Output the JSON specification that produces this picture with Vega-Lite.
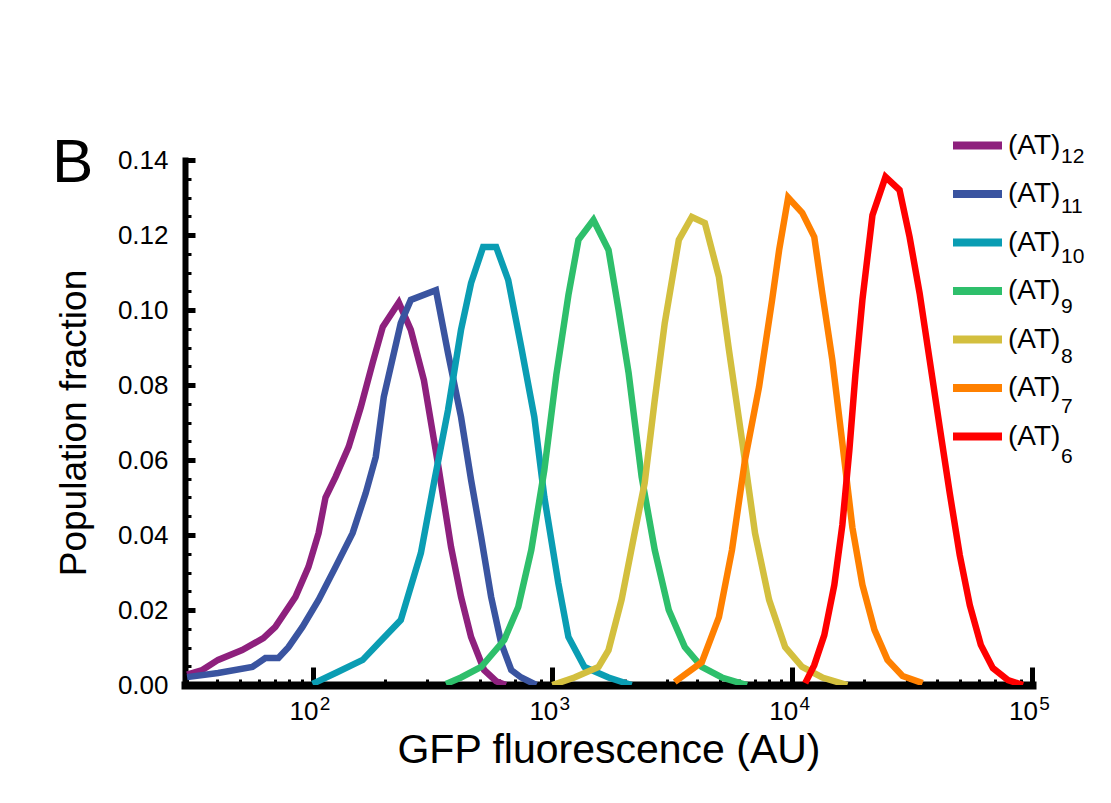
{
  "$schema": "https://vega.github.io/schema/vega-lite/v6.json",
  "width": 847,
  "height": 525,
  "autosize": {"type": "none"},
  "padding": {"left": 185, "top": 160, "right": 79, "bottom": 118},
  "background": "white",
  "config": {
    "view": {"stroke": null},
    "font": "Liberation Sans",
    "axis": {"grid": false, "labelFlush": false, "domainColor": "black", "domainCap": "square", "tickColor": "black", "labelColor": "black", "titleColor": "black", "labelFont": "Liberation Sans", "titleFont": "Liberation Sans", "titleFontWeight": "normal"}
  },
  "title": {"text": "B", "anchor": "start", "frame": "group", "orient": "top", "fontSize": 62, "fontWeight": "normal", "font": "Liberation Sans", "color": "black", "dx": -133, "offset": -127, "baseline": "alphabetic"},
  "datasets": {
    "legendsub": [{"n": "12"}, {"n": "11"}, {"n": "10"}, {"n": "9"}, {"n": "8"}, {"n": "7"}, {"n": "6"}]
  },
  "data": {"values": [
    {"series": "(AT)12", "gfp": 30.0, "fraction": 0.0028},
    {"series": "(AT)12", "gfp": 34.7, "fraction": 0.004},
    {"series": "(AT)12", "gfp": 40.4, "fraction": 0.0067},
    {"series": "(AT)12", "gfp": 50.9, "fraction": 0.0093},
    {"series": "(AT)12", "gfp": 62.4, "fraction": 0.0125},
    {"series": "(AT)12", "gfp": 70.0, "fraction": 0.0155},
    {"series": "(AT)12", "gfp": 84.9, "fraction": 0.0235},
    {"series": "(AT)12", "gfp": 96.2, "fraction": 0.0315},
    {"series": "(AT)12", "gfp": 106, "fraction": 0.0405},
    {"series": "(AT)12", "gfp": 113.3, "fraction": 0.05},
    {"series": "(AT)12", "gfp": 124.8, "fraction": 0.0555},
    {"series": "(AT)12", "gfp": 141.5, "fraction": 0.0635},
    {"series": "(AT)12", "gfp": 158.8, "fraction": 0.074},
    {"series": "(AT)12", "gfp": 178.3, "fraction": 0.086},
    {"series": "(AT)12", "gfp": 196.3, "fraction": 0.0955},
    {"series": "(AT)12", "gfp": 229.0, "fraction": 0.102},
    {"series": "(AT)12", "gfp": 257.0, "fraction": 0.0947},
    {"series": "(AT)12", "gfp": 291.4, "fraction": 0.0813},
    {"series": "(AT)12", "gfp": 333.4, "fraction": 0.059},
    {"series": "(AT)12", "gfp": 378.1, "fraction": 0.0368},
    {"series": "(AT)12", "gfp": 416.1, "fraction": 0.0235},
    {"series": "(AT)12", "gfp": 458.3, "fraction": 0.0128},
    {"series": "(AT)12", "gfp": 519.4, "fraction": 0.004},
    {"series": "(AT)12", "gfp": 583.1, "fraction": 0.001},
    {"series": "(AT)12", "gfp": 640, "fraction": 0.0},
    {"series": "(AT)11", "gfp": 30.0, "fraction": 0.0021},
    {"series": "(AT)11", "gfp": 40.4, "fraction": 0.0032},
    {"series": "(AT)11", "gfp": 56.1, "fraction": 0.0048},
    {"series": "(AT)11", "gfp": 63.6, "fraction": 0.0072},
    {"series": "(AT)11", "gfp": 72.1, "fraction": 0.0072},
    {"series": "(AT)11", "gfp": 79.4, "fraction": 0.0101},
    {"series": "(AT)11", "gfp": 90.8, "fraction": 0.0155},
    {"series": "(AT)11", "gfp": 106, "fraction": 0.0227},
    {"series": "(AT)11", "gfp": 124.8, "fraction": 0.0315},
    {"series": "(AT)11", "gfp": 147.0, "fraction": 0.0405},
    {"series": "(AT)11", "gfp": 166.7, "fraction": 0.0512},
    {"series": "(AT)11", "gfp": 183.5, "fraction": 0.0608},
    {"series": "(AT)11", "gfp": 198.2, "fraction": 0.0768},
    {"series": "(AT)11", "gfp": 233.4, "fraction": 0.0965},
    {"series": "(AT)11", "gfp": 257.0, "fraction": 0.1027},
    {"series": "(AT)11", "gfp": 327.1, "fraction": 0.1053},
    {"series": "(AT)11", "gfp": 367.3, "fraction": 0.0885},
    {"series": "(AT)11", "gfp": 416.1, "fraction": 0.0715},
    {"series": "(AT)11", "gfp": 458.3, "fraction": 0.0547},
    {"series": "(AT)11", "gfp": 504.7, "fraction": 0.0395},
    {"series": "(AT)11", "gfp": 555.6, "fraction": 0.0235},
    {"series": "(AT)11", "gfp": 611.9, "fraction": 0.0112},
    {"series": "(AT)11", "gfp": 673.9, "fraction": 0.004},
    {"series": "(AT)11", "gfp": 742.0, "fraction": 0.002},
    {"series": "(AT)11", "gfp": 857.3, "fraction": 0.0},
    {"series": "(AT)10", "gfp": 100, "fraction": 0.0003},
    {"series": "(AT)10", "gfp": 124.8, "fraction": 0.0032},
    {"series": "(AT)10", "gfp": 161.9, "fraction": 0.0067},
    {"series": "(AT)10", "gfp": 188.9, "fraction": 0.0112},
    {"series": "(AT)10", "gfp": 233.4, "fraction": 0.0173},
    {"series": "(AT)10", "gfp": 283.1, "fraction": 0.0352},
    {"series": "(AT)10", "gfp": 320.9, "fraction": 0.0539},
    {"series": "(AT)10", "gfp": 367.3, "fraction": 0.0733},
    {"series": "(AT)10", "gfp": 416.1, "fraction": 0.0947},
    {"series": "(AT)10", "gfp": 458.3, "fraction": 0.1072},
    {"series": "(AT)10", "gfp": 514.5, "fraction": 0.1168},
    {"series": "(AT)10", "gfp": 583.1, "fraction": 0.1168},
    {"series": "(AT)10", "gfp": 654.6, "fraction": 0.108},
    {"series": "(AT)10", "gfp": 742.0, "fraction": 0.0901},
    {"series": "(AT)10", "gfp": 840.9, "fraction": 0.0715},
    {"series": "(AT)10", "gfp": 926.1, "fraction": 0.0501},
    {"series": "(AT)10", "gfp": 1059, "fraction": 0.0272},
    {"series": "(AT)10", "gfp": 1167, "fraction": 0.0128},
    {"series": "(AT)10", "gfp": 1361, "fraction": 0.0048},
    {"series": "(AT)10", "gfp": 1715, "fraction": 0.002},
    {"series": "(AT)10", "gfp": 2141, "fraction": 0.0},
    {"series": "(AT)9", "gfp": 360.2, "fraction": 0.0003},
    {"series": "(AT)9", "gfp": 416.1, "fraction": 0.002},
    {"series": "(AT)9", "gfp": 504.7, "fraction": 0.0048},
    {"series": "(AT)9", "gfp": 629.9, "fraction": 0.012},
    {"series": "(AT)9", "gfp": 720.8, "fraction": 0.0208},
    {"series": "(AT)9", "gfp": 817.0, "fraction": 0.036},
    {"series": "(AT)9", "gfp": 926.1, "fraction": 0.0573},
    {"series": "(AT)9", "gfp": 1039, "fraction": 0.0827},
    {"series": "(AT)9", "gfp": 1167, "fraction": 0.104},
    {"series": "(AT)9", "gfp": 1285, "fraction": 0.1187},
    {"series": "(AT)9", "gfp": 1484, "fraction": 0.124},
    {"series": "(AT)9", "gfp": 1715, "fraction": 0.116},
    {"series": "(AT)9", "gfp": 1889, "fraction": 0.1},
    {"series": "(AT)9", "gfp": 2080, "fraction": 0.0832},
    {"series": "(AT)9", "gfp": 2357, "fraction": 0.0555},
    {"series": "(AT)9", "gfp": 2673, "fraction": 0.036},
    {"series": "(AT)9", "gfp": 3058, "fraction": 0.02},
    {"series": "(AT)9", "gfp": 3567, "fraction": 0.0101},
    {"series": "(AT)9", "gfp": 4202, "fraction": 0.0048},
    {"series": "(AT)9", "gfp": 5094, "fraction": 0.002},
    {"series": "(AT)9", "gfp": 6482, "fraction": 0.0},
    {"series": "(AT)8", "gfp": 1000, "fraction": 0.0},
    {"series": "(AT)8", "gfp": 1236, "fraction": 0.002},
    {"series": "(AT)8", "gfp": 1558, "fraction": 0.0048},
    {"series": "(AT)8", "gfp": 1715, "fraction": 0.0093},
    {"series": "(AT)8", "gfp": 1944, "fraction": 0.0227},
    {"series": "(AT)8", "gfp": 2203, "fraction": 0.0405},
    {"series": "(AT)8", "gfp": 2427, "fraction": 0.0539},
    {"series": "(AT)8", "gfp": 2673, "fraction": 0.076},
    {"series": "(AT)8", "gfp": 2942, "fraction": 0.0965},
    {"series": "(AT)8", "gfp": 3368, "fraction": 0.1187},
    {"series": "(AT)8", "gfp": 3816, "fraction": 0.1248},
    {"series": "(AT)8", "gfp": 4325, "fraction": 0.1232},
    {"series": "(AT)8", "gfp": 4950, "fraction": 0.1088},
    {"series": "(AT)8", "gfp": 5451, "fraction": 0.0893},
    {"series": "(AT)8", "gfp": 6178, "fraction": 0.0653},
    {"series": "(AT)8", "gfp": 7001, "fraction": 0.0405},
    {"series": "(AT)8", "gfp": 8014, "fraction": 0.0227},
    {"series": "(AT)8", "gfp": 9348, "fraction": 0.0101},
    {"series": "(AT)8", "gfp": 11014, "fraction": 0.0048},
    {"series": "(AT)8", "gfp": 13355, "fraction": 0.002},
    {"series": "(AT)8", "gfp": 16990, "fraction": 0.0},
    {"series": "(AT)7", "gfp": 3239, "fraction": 0.0008},
    {"series": "(AT)7", "gfp": 4202, "fraction": 0.0061},
    {"series": "(AT)7", "gfp": 4950, "fraction": 0.0181},
    {"series": "(AT)7", "gfp": 5611, "fraction": 0.036},
    {"series": "(AT)7", "gfp": 6358, "fraction": 0.06},
    {"series": "(AT)7", "gfp": 7276, "fraction": 0.0795},
    {"series": "(AT)7", "gfp": 8249, "fraction": 0.1027},
    {"series": "(AT)7", "gfp": 8824, "fraction": 0.116},
    {"series": "(AT)7", "gfp": 9623, "fraction": 0.13},
    {"series": "(AT)7", "gfp": 11014, "fraction": 0.1259},
    {"series": "(AT)7", "gfp": 12361, "fraction": 0.1195},
    {"series": "(AT)7", "gfp": 13355, "fraction": 0.1045},
    {"series": "(AT)7", "gfp": 14703, "fraction": 0.0867},
    {"series": "(AT)7", "gfp": 16192, "fraction": 0.0645},
    {"series": "(AT)7", "gfp": 17826, "fraction": 0.042},
    {"series": "(AT)7", "gfp": 19628, "fraction": 0.0267},
    {"series": "(AT)7", "gfp": 22035, "fraction": 0.0147},
    {"series": "(AT)7", "gfp": 24973, "fraction": 0.0067},
    {"series": "(AT)7", "gfp": 28857, "fraction": 0.0024},
    {"series": "(AT)7", "gfp": 34984, "fraction": 0.0005},
    {"series": "(AT)6", "gfp": 11334, "fraction": 0.0005},
    {"series": "(AT)6", "gfp": 12361, "fraction": 0.0053},
    {"series": "(AT)6", "gfp": 13614, "fraction": 0.0133},
    {"series": "(AT)6", "gfp": 14989, "fraction": 0.0267},
    {"series": "(AT)6", "gfp": 16192, "fraction": 0.0427},
    {"series": "(AT)6", "gfp": 17320, "fraction": 0.0627},
    {"series": "(AT)6", "gfp": 18348, "fraction": 0.0827},
    {"series": "(AT)6", "gfp": 19628, "fraction": 0.1027},
    {"series": "(AT)6", "gfp": 21614, "fraction": 0.1253},
    {"series": "(AT)6", "gfp": 24497, "fraction": 0.1355},
    {"series": "(AT)6", "gfp": 28036, "fraction": 0.132},
    {"series": "(AT)6", "gfp": 30867, "fraction": 0.1195},
    {"series": "(AT)6", "gfp": 33987, "fraction": 0.1045},
    {"series": "(AT)6", "gfp": 37428, "fraction": 0.0867},
    {"series": "(AT)6", "gfp": 41218, "fraction": 0.0688},
    {"series": "(AT)6", "gfp": 45387, "fraction": 0.0512},
    {"series": "(AT)6", "gfp": 49955, "fraction": 0.0347},
    {"series": "(AT)6", "gfp": 55036, "fraction": 0.0213},
    {"series": "(AT)6", "gfp": 61180, "fraction": 0.0107},
    {"series": "(AT)6", "gfp": 68676, "fraction": 0.0045},
    {"series": "(AT)6", "gfp": 79360, "fraction": 0.0013},
    {"series": "(AT)6", "gfp": 91690, "fraction": 0.0}
  ]},
  "layer": [
    {
      "mark": {"type": "line", "strokeWidth": 6.5, "clip": true},
      "encoding": {
        "x": {"field": "gfp", "type": "quantitative",
          "scale": {"type": "log", "domain": [29.4, 100000], "nice": false},
          "axis": {"orient": "bottom", "values": [100, 1000, 10000, 100000], "domainWidth": 8, "tickSize": -18, "tickWidth": 5, "labelPadding": 31, "labelFontSize": 26, "labelOffset": -9, "labelFlush": false,
            "labelExpr": "'10'",
            "title": "GFP fluorescence (AU)", "titleFontSize": 41, "titlePadding": 6}},
        "y": {"field": "fraction", "type": "quantitative",
          "scale": {"domain": [0, 0.14], "nice": false},
          "axis": {"orient": "left", "values": [0, 0.02, 0.04, 0.06, 0.08, 0.1, 0.12, 0.14], "format": ".2f", "domainWidth": 6, "tickSize": -10, "tickWidth": 5, "labelPadding": 27, "labelFontSize": 26, "labelFlush": false,
            "title": "Population fraction", "titleFontSize": 37, "titlePadding": 24}},
        "color": {"field": "series", "type": "nominal",
          "scale": {"domain": ["(AT)12", "(AT)11", "(AT)10", "(AT)9", "(AT)8", "(AT)7", "(AT)6"],
                    "range": ["#8E207D", "#3A54A0", "#0A9DB3", "#2EBF6B", "#D3BF3E", "#FF8000", "#FF0000"]},
          "legend": {"orient": "none", "legendX": 764, "legendY": -43, "title": null, "symbolType": "stroke", "symbolSize": 2401, "symbolStrokeWidth": 8, "labelFontSize": 28, "labelFont": "Liberation Sans", "labelColor": "black", "labelOffset": 2, "labelExpr": "'(AT)'", "rowPadding": 3.5, "padding": 0}}
      }
    },
    {
      "mark": {"type": "line", "strokeOpacity": 0},
      "encoding": {
        "x": {"field": "gfp", "type": "quantitative",
          "scale": {"type": "log", "domain": [29.4, 100000], "nice": false},
          "axis": {"orient": "bottom", "values": [30, 40, 50, 60, 70, 80, 90, 200, 300, 400, 500, 600, 700, 800, 900, 2000, 3000, 4000, 5000, 6000, 7000, 8000, 9000, 20000, 30000, 40000, 50000, 60000, 70000, 80000, 90000], "tickSize": -6, "tickWidth": 3, "labels": false, "title": null, "domain": false}},
        "y": {"field": "fraction", "type": "quantitative",
          "scale": {"domain": [0, 0.14], "nice": false},
          "axis": {"orient": "left", "values": [0.005, 0.01, 0.015, 0.025, 0.03, 0.035, 0.045, 0.05, 0.055, 0.065, 0.07, 0.075, 0.085, 0.09, 0.095, 0.105, 0.11, 0.115, 0.125, 0.13, 0.135], "tickSize": -6, "tickWidth": 3, "labels": false, "title": null, "domain": false}}
      }
    },
    {
      "mark": {"type": "line", "strokeOpacity": 0},
      "encoding": {
        "x": {"field": "gfp", "type": "quantitative",
          "scale": {"type": "log", "domain": [29.4, 100000], "nice": false},
          "axis": {"orient": "bottom", "values": [100, 1000, 10000, 100000], "ticks": false, "domain": false, "labelPadding": 9, "labelFontSize": 19, "labelOffset": 12, "labelFlush": false,
            "labelExpr": "datum.value == 100 ? '2' : datum.value == 1000 ? '3' : datum.value == 10000 ? '4' : '5'", "title": null}},
        "y": {"field": "fraction", "type": "quantitative",
          "scale": {"domain": [0, 0.14], "nice": false},
          "axis": null}
      }
    },
    {
      "data": {"name": "legendsub"},
      "mark": {"type": "point", "opacity": 0},
      "encoding": {
        "shape": {"field": "n", "type": "nominal",
          "scale": {"domain": ["12", "11", "10", "9", "8", "7", "6"], "range": ["stroke", "stroke", "stroke", "stroke", "stroke", "stroke", "stroke"]},
          "legend": {"orient": "none", "legendX": 764, "legendY": -43, "title": null, "symbolSize": 2401, "symbolStrokeWidth": 8, "symbolOpacity": 0, "labelFontSize": 21, "labelFont": "Liberation Sans", "labelColor": "black", "labelOffset": 55, "labelBaseline": "top", "rowPadding": -2, "padding": 0}}
      }
    }
  ],
  "resolve": {"axis": {"x": "independent", "y": "independent"}}
}
